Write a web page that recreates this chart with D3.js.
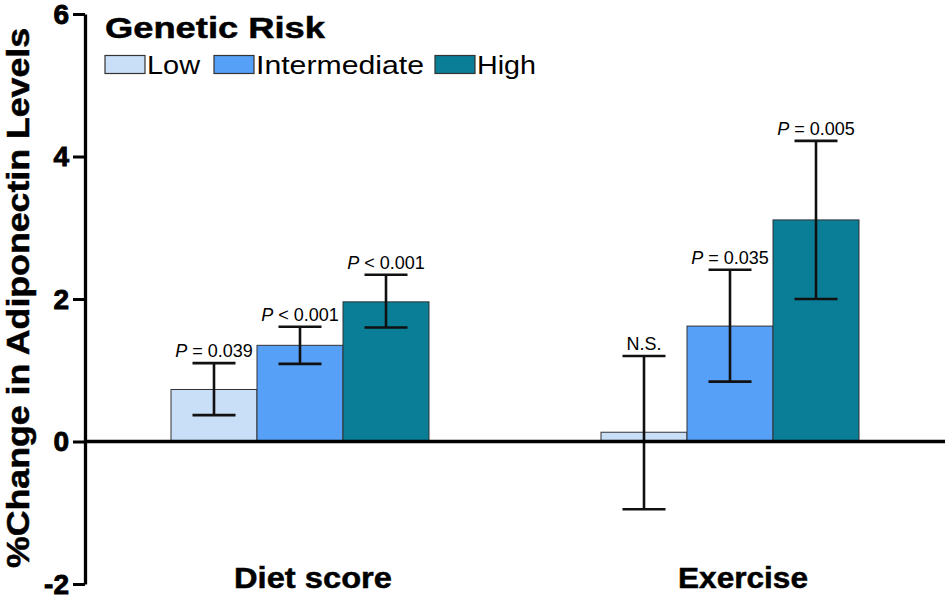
<!DOCTYPE html>
<html>
<head>
<meta charset="utf-8">
<script src="https://cdn.jsdelivr.net/npm/d3@7"></script>
<style>
  body { margin: 0; background: #fff; }
  text { font-family: "Liberation Sans", Arial, sans-serif; fill: #000; }
</style>
</head>
<body>
<div id="chart"></div>
<script>
// data
const categories = ['Diet score', 'Exercise'];
const groups = ['Low', 'Intermediate', 'High'];
const dietMean = [0.73, 1.35, 1.96];
const dietLow = [0.37, 1.09, 1.60];
const dietHigh = [1.10, 1.61, 2.34];
const dietP = [['P', ' = 0.039'], ['P', ' < 0.001'], ['P', ' < 0.001']];
const exMean = [0.13, 1.62, 3.11];
const exLow = [-0.95, 0.84, 2.00];
const exHigh = [1.20, 2.41, 4.22];
const exP = [['', 'N.S.'], ['P', ' = 0.035'], ['P', ' = 0.005']];
const yTicks = [-2, 0, 2, 4, 6];
const colors = ['#c9def7', '#56a0f8', '#0a7e96'];

const width = 945, height = 597;

const rows = [];
categories.forEach((c, ci) => {
  const m = ci === 0 ? dietMean : exMean;
  const lo = ci === 0 ? dietLow : exLow;
  const hi = ci === 0 ? dietHigh : exHigh;
  const p = ci === 0 ? dietP : exP;
  groups.forEach((g, gi) => {
    rows.push({ cat: c, group: g, value: m[gi], lo: lo[gi], hi: hi[gi], p: p[gi] });
  });
});

const svg = d3.select('#chart').append('svg')
  .attr('width', width)
  .attr('height', height);

const y = d3.scaleLinear().domain([-2, 6]).range([584, 14]);

const x0 = d3.scaleBand()
  .domain(categories)
  .range([85, 945])
  .paddingInner(0.4)
  .paddingOuter(0.2);

const x1 = d3.scaleBand()
  .domain(groups)
  .range([0, x0.bandwidth()]);

const color = d3.scaleOrdinal().domain(groups).range(colors);

// bars
svg.append('g').selectAll('rect')
  .data(rows)
  .enter().append('rect')
  .attr('x', d => x0(d.cat) + x1(d.group))
  .attr('y', d => y(Math.max(0, d.value)))
  .attr('width', x1.bandwidth())
  .attr('height', d => Math.abs(y(d.value) - y(0)))
  .attr('fill', d => color(d.group))
  .attr('stroke', '#333')
  .attr('stroke-width', 1);

// error bars
const err = svg.append('g').attr('stroke', '#111').attr('stroke-width', 2.6);
const cx = d => x0(d.cat) + x1(d.group) + x1.bandwidth() / 2;
const capW = 21.5;
err.selectAll('.v').data(rows).enter().append('line')
  .attr('x1', cx).attr('x2', cx)
  .attr('y1', d => y(d.lo)).attr('y2', d => y(d.hi));
err.selectAll('.t').data(rows).enter().append('line')
  .attr('x1', d => cx(d) - capW).attr('x2', d => cx(d) + capW)
  .attr('y1', d => y(d.hi)).attr('y2', d => y(d.hi));
err.selectAll('.b').data(rows).enter().append('line')
  .attr('x1', d => cx(d) - capW).attr('x2', d => cx(d) + capW)
  .attr('y1', d => y(d.lo)).attr('y2', d => y(d.lo));

// p-value labels
const pl = svg.append('g').selectAll('text')
  .data(rows)
  .enter().append('text')
  .attr('x', cx)
  .attr('y', d => y(d.hi) - 6)
  .attr('text-anchor', 'middle')
  .style('font-size', '18px');
pl.append('tspan').style('font-style', 'italic').text(d => d.p[0]);
pl.append('tspan').text(d => d.p[1]);

// zero line
svg.append('line')
  .attr('x1', 85).attr('x2', width)
  .attr('y1', y(0)).attr('y2', y(0))
  .attr('stroke', '#000')
  .attr('stroke-width', 3.5);

// y axis
const yAxis = svg.append('g')
  .attr('transform', 'translate(85,0)')
  .call(d3.axisLeft(y).tickValues(yTicks).tickFormat(d => String(d))
    .tickSize(12).tickSizeOuter(0).tickPadding(4));
yAxis.attr('font-family', null).attr('font-size', null);
yAxis.select('.domain').attr('stroke', '#000').attr('stroke-width', 3.3);
yAxis.selectAll('.tick line').attr('stroke', '#000').attr('stroke-width', 3);
yAxis.selectAll('.tick text')
  .attr('fill', '#000')
  .attr('stroke', '#000')
  .attr('stroke-width', 0.9)
  .attr('dy', '0.33em')
  .style('font-size', '28px')
  .style('font-weight', 'bold');

// y title
svg.append('text')
  .attr('transform', 'translate(29,298) rotate(-90)')
  .attr('text-anchor', 'middle')
  .attr('textLength', 540)
  .attr('lengthAdjust', 'spacingAndGlyphs')
  .attr('stroke', '#000')
  .attr('stroke-width', 0.5)
  .style('font-size', '31px')
  .style('font-weight', 'bold')
  .text('%Change in Adiponectin Levels');

// category labels
const catW = [158, 130];
svg.append('g').selectAll('text')
  .data(categories)
  .enter().append('text')
  .attr('x', d => x0(d) + x0.bandwidth() / 2 + 13)
  .attr('y', 588)
  .attr('text-anchor', 'middle')
  .attr('textLength', (d, i) => catW[i])
  .attr('lengthAdjust', 'spacingAndGlyphs')
  .attr('stroke', '#000')
  .attr('stroke-width', 0.5)
  .style('font-size', '30px')
  .style('font-weight', 'bold')
  .text(d => d);

// legend
svg.append('text')
  .attr('x', 105).attr('y', 38)
  .attr('textLength', 220)
  .attr('lengthAdjust', 'spacingAndGlyphs')
  .attr('stroke', '#000')
  .attr('stroke-width', 0.5)
  .style('font-size', '30px')
  .style('font-weight', 'bold')
  .text('Genetic Risk');

const legX = [105, 214, 435];
const legW = [53, 168, 59];
const leg = svg.append('g').selectAll('g')
  .data(groups)
  .enter().append('g')
  .attr('transform', (d, i) => `translate(${legX[i]},0)`);
leg.append('rect')
  .attr('x', 0).attr('y', 55.5)
  .attr('width', 40).attr('height', 18)
  .attr('fill', d => color(d))
  .attr('stroke', '#333')
  .attr('stroke-width', 1.2);
leg.append('text')
  .attr('x', 42).attr('y', 73.5)
  .attr('textLength', (d, i) => legW[i])
  .attr('lengthAdjust', 'spacingAndGlyphs')
  .style('font-size', '25px')
  .text(d => d);
</script>
</body>
</html>
